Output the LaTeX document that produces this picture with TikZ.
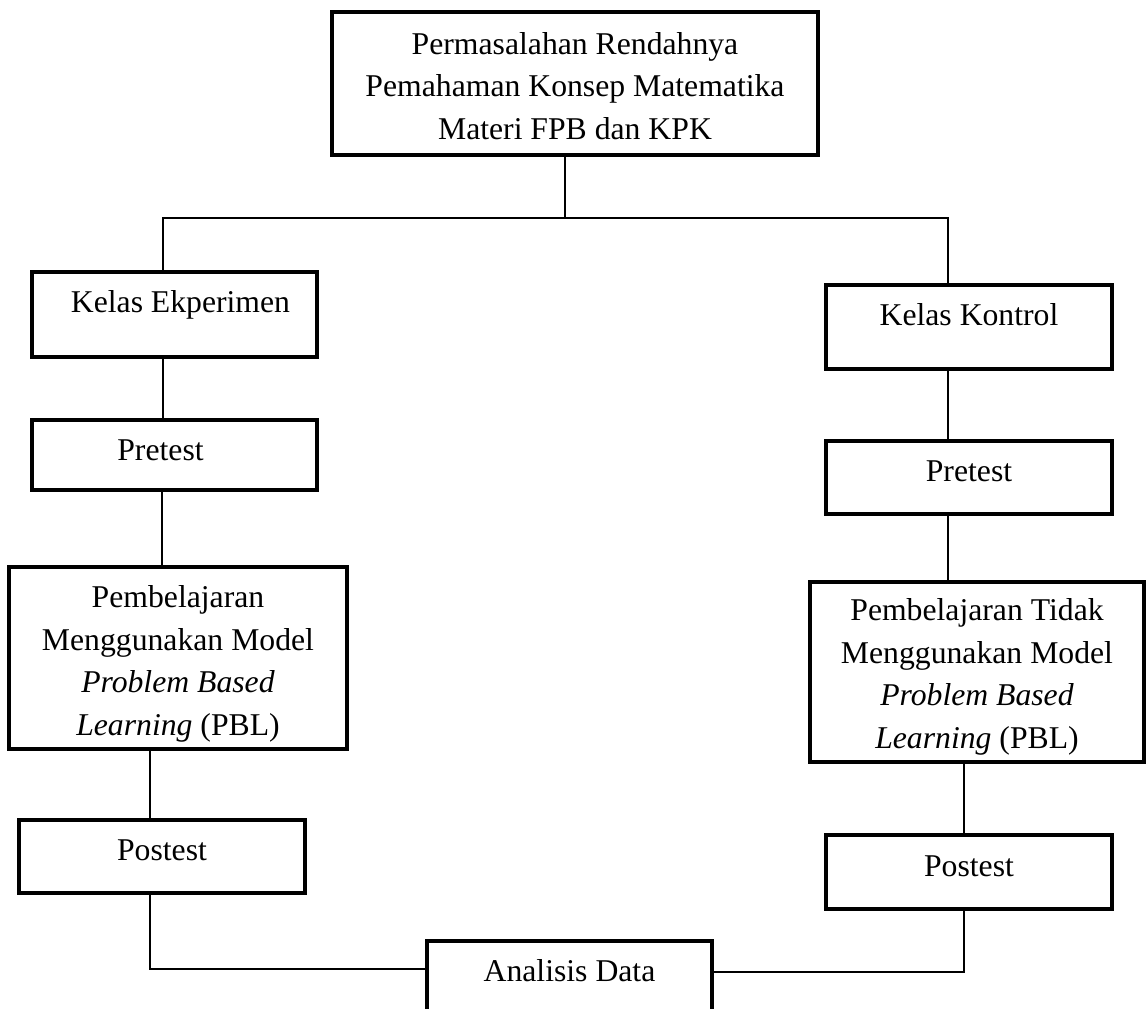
\documentclass[tikz,border=0pt]{standalone}
\usepackage{fontspec}
\setmainfont{Liberation Serif}
\usetikzlibrary{calc}

\begin{document}
\begin{tikzpicture}[x=0.5pt,y=-0.5pt,
    kotak/.style={draw, line width=2pt, inner sep=0pt, anchor=north,
      text height=20pt, font=\fontsize{15.85}{21.2}\selectfont},
    kotakpanjang/.style={kotak, align=center},
    garis/.style={line width=1pt}]
  \useasboundingbox (0,0) rectangle (1147,1008);
  \clip (0,0) rectangle (1147,1008);

  \coordinate (cabang) at (565,218);% titik cabang

  % kotak atas
  \node[kotakpanjang, minimum width=243pt, text height=63.5pt, text depth=8pt] (masalah) at (575,10)
    {Permasalahan Rendahnya\\Pemahaman Konsep Matematika\\Materi FPB dan KPK};

  % kelas eksperimen (kiri)
  \node[kotak, minimum width=142.5pt, text depth=22.5pt] (ekspL) at (174.5,270) {\hspace*{6pt}Kelas Ekperimen};
  \node[kotak, minimum width=142.5pt, text depth=15pt] (preL) at (174.5,418) {Pretest\hspace*{14pt}};
  \node[kotakpanjang, minimum width=169pt, text height=84pt, text depth=7pt] (pembL) at (178,565)
    {Pembelajaran\\Menggunakan Model\\\textit{Problem Based}\\\textit{Learning} (PBL)};
  \node[kotak, minimum width=143pt, text depth=16.5pt] (postL) at (162,818) {Postest};

  % kelas kontrol (kanan)
  \node[kotak, minimum width=143pt, text depth=22pt] (kontrolR) at (969,283) {Kelas Kontrol};
  \node[kotak, minimum width=143pt, text depth=16.5pt] (preR) at (969,439) {Pretest};
  \node[kotakpanjang, minimum width=167pt, text height=83pt, text depth=7pt] (pembR) at (977,580)
    {Pembelajaran Tidak\\Menggunakan Model\\\textit{Problem Based}\\\textit{Learning} (PBL)};
  \node[kotak, minimum width=143pt, text height=20.5pt, text depth=16.5pt] (postR) at (969,833) {Postest};

  % kotak bawah
  \node[kotak, minimum width=142.5pt, text depth=22.5pt] (analisis) at (569.5,939) {Analisis Data};

  % garis penghubung
  \draw[garis] ([xshift=-5pt]masalah.south) -- (cabang);
  \draw[garis] ([xshift=-5.75pt]ekspL.north) |- (cabang) -| ([xshift=-10.5pt]kontrolR.north);

  \draw[garis] ([xshift=-6pt]ekspL.south) -- ([xshift=-6pt]preL.north);
  \draw[garis] ([xshift=-6.25pt]preL.south) -- ([xshift=-6.25pt]preL.south |- pembL.north);
  \draw[garis] ([xshift=-14pt]pembL.south) -- ([xshift=-6pt]postL.north);
  \draw[garis] ([xshift=-6pt]postL.south) |- ([yshift=7.25pt]analisis.west);

  \draw[garis] ([xshift=-10.75pt]kontrolR.south) -- ([xshift=-10.75pt]preR.north);
  \draw[garis] ([xshift=-10.5pt]preR.south) -- ([xshift=-10.5pt]preR.south |- pembR.north);
  \draw[garis] ([xshift=-6.5pt]pembR.south) -- ([xshift=-2.5pt]postR.north);
  \draw[garis] ([xshift=-2.5pt]postR.south) |- ([yshift=5.75pt]analisis.east);
\end{tikzpicture}
\end{document}
